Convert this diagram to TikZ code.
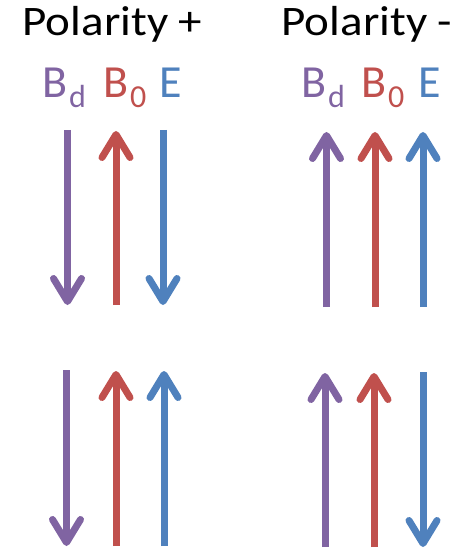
\documentclass[tikz,border=0pt]{standalone}
\usepackage{fontspec}
\setmainfont{Carlito}
\usetikzlibrary{arrows.meta}
\definecolor{cpurple}{HTML}{8064A2}
\definecolor{cred}{HTML}{C0504D}
\definecolor{cblue}{HTML}{4F81BD}
\tikzset{
  vec/.style={line width=7pt, -{Straight Barb[length=23pt,width=28pt,line cap=round,line join=round]}},
  ttl/.style={anchor=base, inner sep=0pt, font=\fontsize{42}{42}\selectfont},
  lbl/.style={anchor=base west, inner sep=0pt, font=\fontsize{46}{46}\selectfont},
}
\newcommand{\subtxt}[1]{\kern2pt\raisebox{-10pt}{\fontsize{32}{32}\selectfont #1}}
\begin{document}
\begin{tikzpicture}[x=1pt,y=-1pt]
\useasboundingbox (0,0) rectangle (462,553);
% titles
\node[ttl] (t1) at (112.5,36) {\scalebox{1.12}[1]{Polarity +}};
\node[ttl] (t2) at (367,36) {\scalebox{1.12}[1]{Polarity -}};
% labels
\node[lbl, text=cpurple] (l1) at (42,98) {B\subtxt{d}};
\node[lbl, text=cred] (l2) at (103,98) {B\subtxt{0}};
\node[lbl, text=cblue] (l3) at (159,98) {E};
\node[lbl, text=cpurple] (l4) at (301,98) {B\subtxt{d}};
\node[lbl, text=cred] (l5) at (361,98) {B\subtxt{0}};
\node[lbl, text=cblue] (l6) at (418,98) {E};
% coordinates: panel 1 row 1
\coordinate (a1t) at (67.5,130); \coordinate (a1b) at (67.5,305);
\coordinate (a2t) at (116,131); \coordinate (a2b) at (116,305);
\coordinate (a3t) at (163,130); \coordinate (a3b) at (163,305);
% panel 1 row 2
\coordinate (b1t) at (66.5,370); \coordinate (b1b) at (66.5,546);
\coordinate (b2t) at (116,371); \coordinate (b2b) at (116,546);
\coordinate (b3t) at (164,371); \coordinate (b3b) at (164,546);
% panel 2 row 1
\coordinate (c1t) at (326.5,132); \coordinate (c1b) at (326.5,307);
\coordinate (c2t) at (375,132); \coordinate (c2b) at (375,307);
\coordinate (c3t) at (423,132); \coordinate (c3b) at (423,307);
% panel 2 row 2
\coordinate (d1t) at (325,373); \coordinate (d1b) at (325,547);
\coordinate (d2t) at (374,373); \coordinate (d2b) at (374,547);
\coordinate (d3t) at (423,372); \coordinate (d3b) at (423,547);
% arrows
\draw[vec, cpurple] (a1t) -- (a1b);
\draw[vec, cred] (a2b) -- (a2t);
\draw[vec, cblue] (a3t) -- (a3b);
\draw[vec, cpurple] (b1t) -- (b1b);
\draw[vec, cred] (b2b) -- (b2t);
\draw[vec, cblue] (b3b) -- (b3t);
\draw[vec, cpurple] (c1b) -- (c1t);
\draw[vec, cred] (c2b) -- (c2t);
\draw[vec, cblue] (c3b) -- (c3t);
\draw[vec, cpurple] (d1b) -- (d1t);
\draw[vec, cred] (d2b) -- (d2t);
\draw[vec, cblue] (d3t) -- (d3b);
\end{tikzpicture}
\end{document}
